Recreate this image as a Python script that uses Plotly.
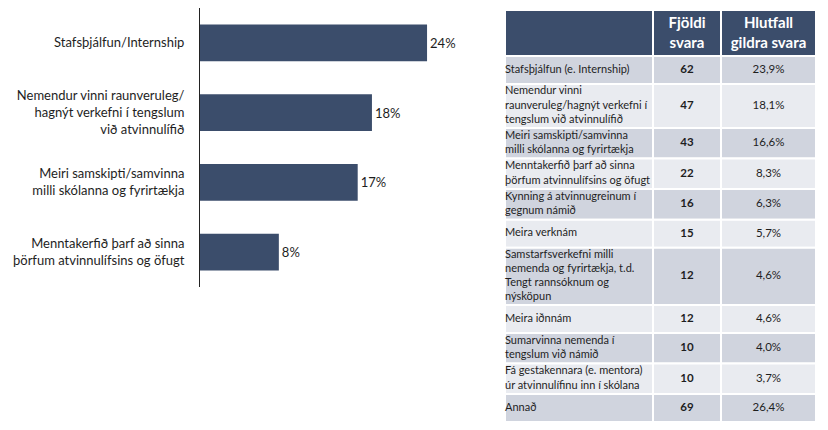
import plotly.graph_objects as go

# ---- bar chart data ----
bar_labels = [
    "Stafsþjálfun/Internship",
    "Nemendur vinni raunveruleg/<br>hagnýt verkefni í tengslum<br>við atvinnulífið",
    "Meiri samskipti/samvinna<br>milli skólanna og fyrirtækja",
    "Menntakerfið þarf að sinna<br>þörfum atvinnulífsins og öfugt",
]
bar_values = [23.9, 18.1, 16.6, 8.3]

# ---- table data ----
table_header = ["", "Fjöldi<br>svara", "Hlutfall<br>gildra svara"]
table_items = [
    "Stafsþjálfun (e. Internship)",
    "Nemendur vinni<br>raunveruleg/hagnýt verkefni í<br>tengslum við atvinnulífið",
    "Meiri samskipti/samvinna<br>milli skólanna og fyrirtækja",
    "Menntakerfið þarf að sinna<br>þörfum atvinnulífsins og öfugt",
    "Kynning á atvinnugreinum í<br>gegnum námið",
    "Meira verknám",
    "Samstarfsverkefni milli<br>nemenda og fyrirtækja, t.d.<br>Tengt rannsóknum og<br>nýsköpun",
    "Meira iðnnám",
    "Sumarvinna nemenda í<br>tengslum við námið",
    "Fá gestakennara (e. mentora)<br>úr atvinnulífinu inn í skólana",
    "Annað",
]
table_counts = [62, 47, 43, 22, 16, 15, 12, 12, 10, 10, 69]
table_shares = [23.9, 18.1, 16.6, 8.3, 6.3, 5.7, 4.6, 4.6, 4.0, 3.7, 26.4]

# ---- styling / layout constants ----
NAVY = "#3b4d6b"
ROW_DARK = "#d0d4de"
ROW_LIGHT = "#e9ebf0"
TXT = "#1e1e1e"
FONT = "Lato"
W, H = 828, 430
COL_W = [148, 68, 95]          # table column widths (px)
TABLE_LEFT, TABLE_TOP = 505, 10
HEADER_H = 46
LINE_H = 13.3
MIN_ROW_H = 28

fig = go.Figure()

# ---------------- bar chart ----------------
fig.add_trace(go.Bar(
    x=bar_values,
    y=bar_labels,
    orientation="h",
    marker=dict(color=NAVY, line=dict(width=0)),
    texttemplate="%{x:.0f}%",
    textposition="outside",
    textfont=dict(family=FONT, size=13, color=TXT),
    cliponaxis=False,
    xaxis="x", yaxis="y",
    hoverinfo="skip",
))

# ---------------- table (drawn on a pixel-scaled axis pair) ----------------
col_left = [sum(COL_W[:i]) for i in range(len(COL_W))]
col_center = [l + w / 2 for l, w in zip(col_left, COL_W)]

n_lines = [t.count("<br>") + 1 for t in table_items]
row_h = [max(MIN_ROW_H, LINE_H * n + 4) for n in n_lines]
row_top = []
y = TABLE_TOP + HEADER_H
for h in row_h:
    row_top.append(y)
    y += h

cx, cbase, cheight, cwidth, ccolor = [], [], [], [], []
# header cells
for j in range(len(COL_W)):
    cx.append(col_center[j]); cbase.append(TABLE_TOP); cheight.append(HEADER_H)
    cwidth.append(COL_W[j]); ccolor.append(NAVY)
# body cells
for i in range(len(table_items)):
    fill = ROW_DARK if i % 2 == 0 else ROW_LIGHT
    for j in range(len(COL_W)):
        cx.append(col_center[j]); cbase.append(row_top[i]); cheight.append(row_h[i])
        cwidth.append(COL_W[j]); ccolor.append(fill)

fig.add_trace(go.Bar(
    x=cx, y=cheight, base=cbase, width=cwidth,
    marker=dict(color=ccolor, line=dict(color="white", width=2)),
    xaxis="x2", yaxis="y2",
    hoverinfo="skip",
))

row_mid = [t + h / 2 for t, h in zip(row_top, row_h)]

# header text
fig.add_trace(go.Scatter(
    x=col_center[1:], y=[TABLE_TOP + HEADER_H / 2 + 1] * 2,
    text=[f"<b>{t}</b>" for t in table_header[1:]],
    mode="text", textposition="middle center",
    textfont=dict(family=FONT, size=15, color="white"),
    xaxis="x2", yaxis="y2", hoverinfo="skip", cliponaxis=False,
))
# first column text
fig.add_trace(go.Scatter(
    x=[col_left[0]] * len(table_items), y=row_mid,
    text=table_items,
    mode="text", textposition="middle right",
    textfont=dict(family=FONT, size=11, color=TXT),
    xaxis="x2", yaxis="y2", hoverinfo="skip", cliponaxis=False,
))
# counts
fig.add_trace(go.Scatter(
    x=[col_center[1]] * len(table_counts), y=row_mid,
    text=[f"<b>{c}</b>" for c in table_counts],
    mode="text", textposition="middle center",
    textfont=dict(family=FONT, size=11.5, color=TXT),
    xaxis="x2", yaxis="y2", hoverinfo="skip", cliponaxis=False,
))
# shares
fig.add_trace(go.Scatter(
    x=[col_center[2]] * len(table_shares), y=row_mid,
    text=[f"{s:.1f}%".replace(".", ",") for s in table_shares],
    mode="text", textposition="middle center",
    textfont=dict(family=FONT, size=11.5, color=TXT),
    xaxis="x2", yaxis="y2", hoverinfo="skip", cliponaxis=False,
))

fig.update_layout(
    width=W, height=H,
    margin=dict(l=0, r=0, t=0, b=0),
    paper_bgcolor="white",
    plot_bgcolor="white",
    showlegend=False,
    bargap=0.47,
    xaxis=dict(
        domain=[200 / W, 485 / W],
        range=[0, 30],
        visible=False,
        fixedrange=True,
    ),
    yaxis=dict(
        domain=[1 - 287 / H, 1 - 8 / H],
        autorange="reversed",
        showline=True, linecolor="#222222", linewidth=1,
        showgrid=False, zeroline=False,
        ticks="", ticklabelstandoff=12,
        tickfont=dict(family=FONT, size=13, color=TXT),
        fixedrange=True,
    ),
    xaxis2=dict(
        domain=[TABLE_LEFT / W, (TABLE_LEFT + sum(COL_W)) / W],
        range=[0, sum(COL_W)],
        visible=False, fixedrange=True,
    ),
    yaxis2=dict(
        anchor="x2",
        domain=[0, 1],
        range=[H, 0],
        visible=False, fixedrange=True,
    ),
    font=dict(family=FONT),
)

fig.write_html("out.html")
